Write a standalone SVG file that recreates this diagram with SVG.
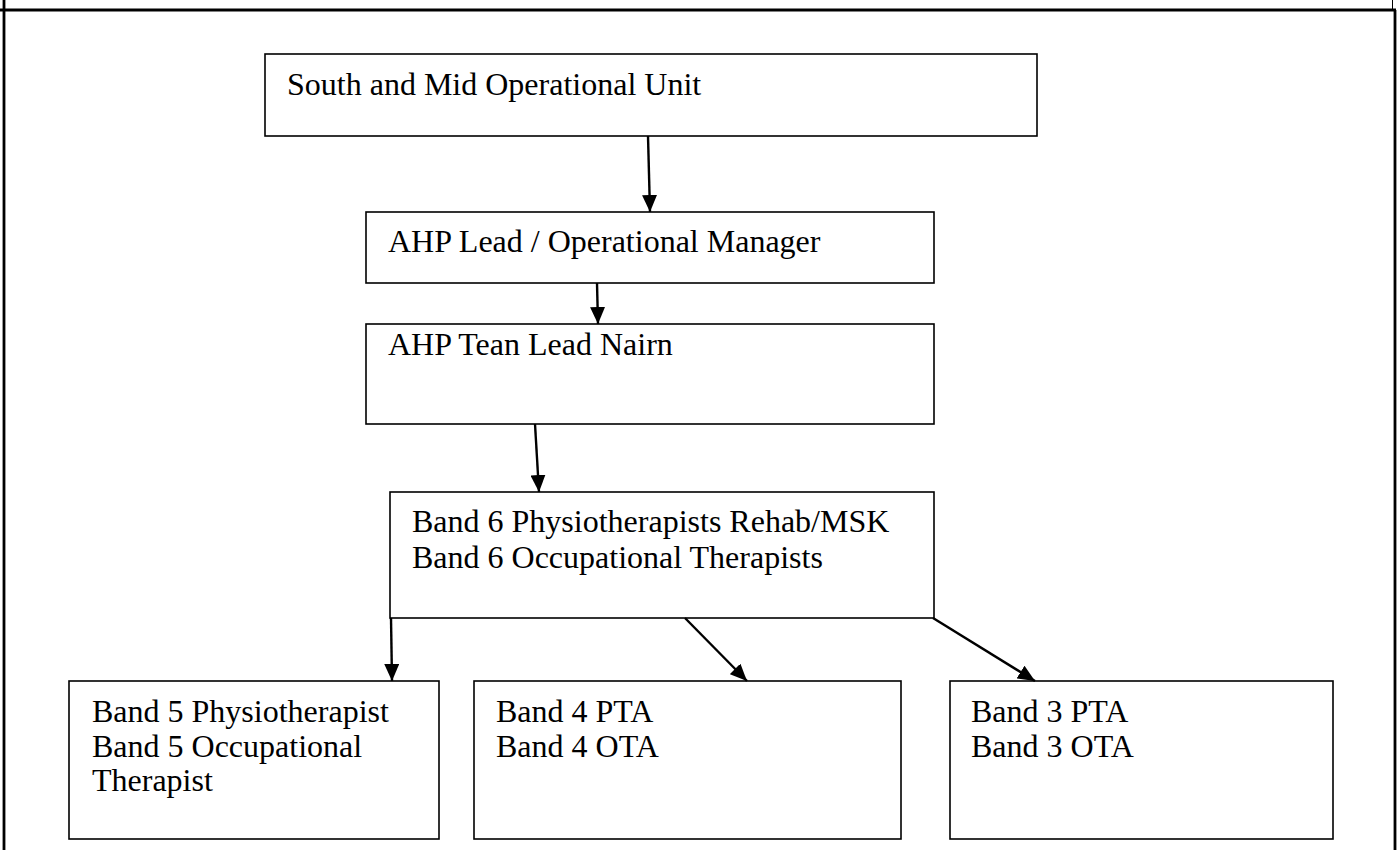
<svg xmlns="http://www.w3.org/2000/svg" width="1398" height="850" viewBox="0 0 1398 850">
<defs>
<marker id="ah" markerUnits="userSpaceOnUse" markerWidth="17" markerHeight="15" viewBox="0 0 17 15" refX="17" refY="7.5" orient="auto">
<path d="M0,0 L17,7.5 L0,15 Z" fill="#000"/>
</marker>
<style>
.box{fill:#fff;stroke:#000;stroke-width:1.6}
.t{font-family:"Liberation Serif","Times New Roman",serif;font-size:32px;fill:#000}
.c{stroke:#000;stroke-width:2.4;fill:none;marker-end:url(#ah)}
.frame{stroke:#000;stroke-width:2.8;fill:none}
</style>
</defs>
<rect width="1398" height="850" fill="#fff"/>
<g id="frame">
<line class="frame" x1="0" y1="10" x2="1396" y2="10"/>
<line class="frame" x1="4" y1="0" x2="4" y2="850"/>
<line class="frame" x1="1395" y1="10" x2="1395" y2="850"/>
<line x1="1392.5" y1="0" x2="1392.5" y2="10" stroke="#000" stroke-width="1"/>
</g>
<g id="n1"><rect class="box" x="265" y="54" width="772" height="82"/><text class="t" x="287" y="95">South and Mid Operational Unit</text></g>
<g id="n2"><rect class="box" x="366" y="212" width="568" height="71"/><text class="t" x="388" y="252">AHP Lead / Operational Manager</text></g>
<g id="n3"><rect class="box" x="366" y="324" width="568" height="100"/><text class="t" x="388" y="355">AHP Tean Lead Nairn</text></g>
<g id="n4"><rect class="box" x="390" y="492" width="544" height="126"/><text class="t" x="412" y="532">Band 6 Physiotherapists Rehab/MSK</text><text class="t" x="412" y="568">Band 6 Occupational Therapists</text></g>
<g id="n5"><rect class="box" x="69" y="681" width="370" height="158"/><text class="t" x="92" y="722">Band 5 Physiotherapist</text><text class="t" x="92" y="757">Band 5 Occupational</text><text class="t" x="92" y="791">Therapist</text></g>
<g id="n6"><rect class="box" x="474" y="681" width="427" height="158"/><text class="t" x="496" y="722">Band 4 PTA</text><text class="t" x="496" y="757">Band 4 OTA</text></g>
<g id="n7"><rect class="box" x="950" y="681" width="383" height="158"/><text class="t" x="971" y="722">Band 3 PTA</text><text class="t" x="971" y="757">Band 3 OTA</text></g>
<g id="connectors">
<line class="c" x1="648" y1="136" x2="650" y2="212"/>
<line class="c" x1="597" y1="283" x2="598" y2="324"/>
<line class="c" x1="535" y1="424" x2="539" y2="492"/>
<line class="c" x1="391" y1="618" x2="392" y2="681"/>
<line class="c" x1="685" y1="618" x2="747" y2="681"/>
<line class="c" x1="933" y1="618" x2="1035" y2="681"/>
</g>
</svg>
